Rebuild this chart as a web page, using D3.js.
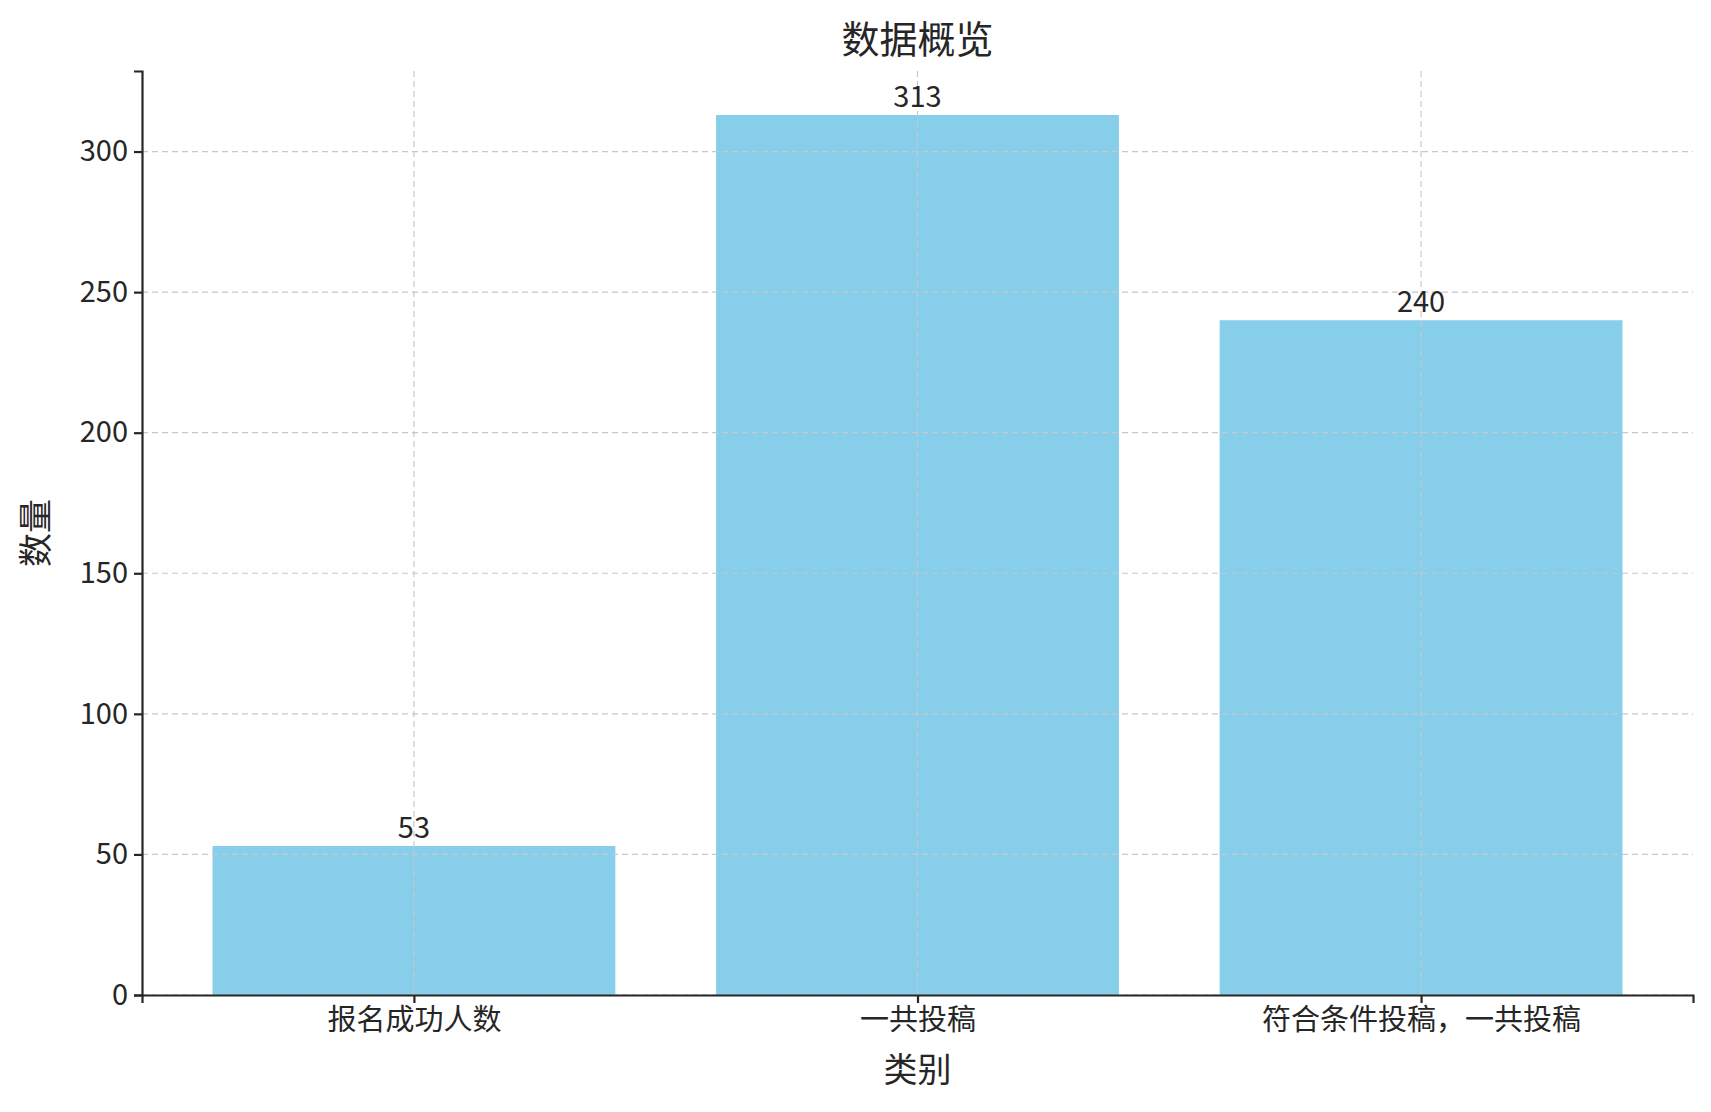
<!DOCTYPE html><html><head><meta charset="utf-8"><script src="https://d3js.org/d3.v7.min.js"></script>
<style>body{margin:0;background:#fff}text{font-family:"Noto Sans CJK SC","DejaVu Sans",sans-serif;fill:#262626}</style></head><body><svg id="c" width="1711" height="1112"></svg><script>
const categories=["报名成功人数","一共投稿","符合条件投稿，一共投稿"];
const values=[53,313,240];
const yTicks=[0,50,100,150,200,250,300];
const svg=d3.select("#c");
const L=142,R=1693,T=71,B=995;
const x=d3.scaleLinear().domain([-0.54,2.54]).range([L,R]);
const y=d3.scaleLinear().domain([0,313*1.05]).range([B,T]);
const g=svg.append("g");
g.selectAll(".b").data(values).join("rect").attr("x",(d,i)=>x(i-0.4)).attr("width",(d,i)=>x(i+0.4)-x(i-0.4)).attr("y",d=>y(d)).attr("height",d=>B-y(d)).attr("fill","#87ceeb");
g.selectAll(".h").data(yTicks).join("line").attr("x1",L).attr("x2",R).attr("y1",d=>y(d)).attr("y2",d=>y(d)).attr("stroke","#c8c8c8").attr("stroke-dasharray","6,4").attr("stroke-width",1.2);
g.selectAll(".v").data(categories).join("line").attr("x1",(d,i)=>x(i)).attr("x2",(d,i)=>x(i)).attr("y1",T).attr("y2",B).attr("stroke","#c8c8c8").attr("stroke-dasharray","6,4").attr("stroke-width",1.2);
g.selectAll(".l").data(values).join("text").attr("x",(d,i)=>x(i)).attr("y",d=>y(d)-8).attr("text-anchor","middle").attr("font-size",29).text(d=>d);
const ya=svg.append("g").attr("transform",`translate(${L},0)`).call(d3.axisLeft(y).tickValues(yTicks).tickSize(8).tickPadding(6));
const xa=svg.append("g").attr("transform",`translate(0,${B})`).call(d3.axisBottom(x).tickValues([0,1,2]).tickFormat(i=>categories[i]).tickSize(8).tickPadding(6));
[ya,xa].forEach(a=>{a.selectAll("text").attr("font-size",29).style("font-family",'"Noto Sans CJK SC",sans-serif').attr("fill","#262626");a.selectAll("line,path").attr("stroke","#262626").attr("stroke-width",2.2);a.select(".domain").attr("stroke-width",2.2);});
svg.append("text").attr("x",(L+R)/2).attr("y",53).attr("text-anchor","middle").attr("font-size",38).text("数据概览");
svg.append("text").attr("x",(L+R)/2).attr("y",1082).attr("text-anchor","middle").attr("font-size",34).text("类别");
svg.append("text").attr("transform",`translate(48,${(T+B)/2}) rotate(-90)`).attr("text-anchor","middle").attr("font-size",34).text("数量");
</script></body></html>
